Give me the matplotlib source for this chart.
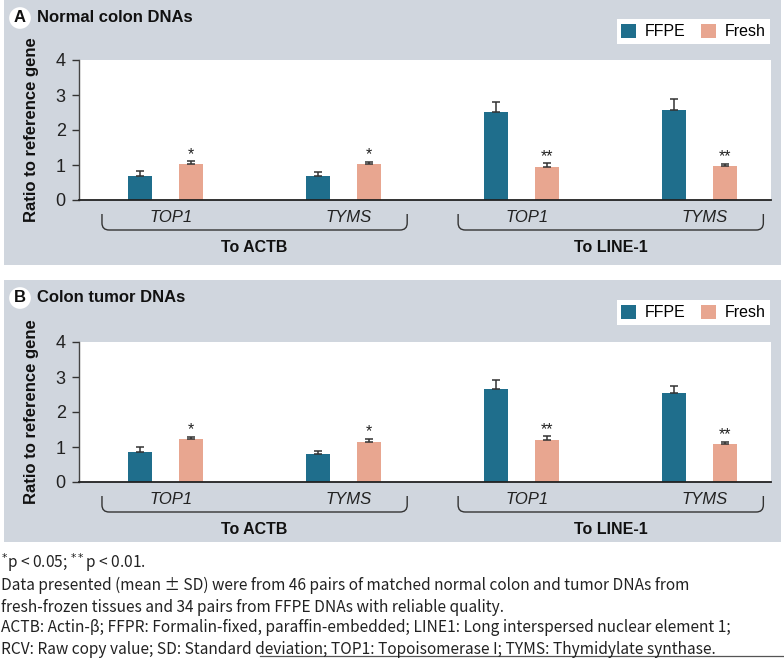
import matplotlib
matplotlib.use("Agg")
import matplotlib.pyplot as plt
from matplotlib.patches import Rectangle, PathPatch, Patch
from matplotlib.path import Path
from matplotlib.lines import Line2D
import matplotlib.transforms as mtransforms
import numpy as np

# ---------------- data ----------------
genes = ["TOP1", "TYMS", "TOP1", "TYMS"]
ref_groups = ["To ACTB", "To LINE-1"]
series = ["FFPE", "Fresh"]

normal_ffpe = [0.69, 0.69, 2.52, 2.56]
normal_ffpe_sd = [0.13, 0.10, 0.27, 0.34]
normal_fresh = [1.04, 1.02, 0.95, 0.98]
normal_fresh_sd = [0.07, 0.07, 0.10, 0.05]

tumor_ffpe = [0.87, 0.81, 2.65, 2.55]
tumor_ffpe_sd = [0.14, 0.09, 0.26, 0.18]
tumor_fresh = [1.22, 1.14, 1.19, 1.09]
tumor_fresh_sd = [0.08, 0.09, 0.12, 0.06]

significance = ["*", "*", "**", "**"]
yticks = [0, 1, 2, 3, 4]

panel_letters = ["A", "B"]
panel_titles = ["Normal colon DNAs", "Colon tumor DNAs"]

footnotes = [
    "$^{*}$p < 0.05; $^{**}$p < 0.01.",
    "Data presented (mean ± SD) were from 46 pairs of matched normal colon and tumor DNAs from",
    "fresh-frozen tissues and 34 pairs from FFPE DNAs with reliable quality.",
    "ACTB: Actin-β; FFPR: Formalin-fixed, paraffin-embedded; LINE1: Long interspersed nuclear element 1;",
    "RCV: Raw copy value; SD: Standard deviation; TOP1: Topoisomerase I; TYMS: Thymidylate synthase.",
]

# ---------------- style ----------------
W, H = 784, 659
C_FFPE = "#1f6e8c"
C_FRESH = "#e8a690"
C_BG = "#d0d6de"
FONT = ["Liberation Sans", "DejaVu Sans"]
plt.rcParams["font.family"] = FONT

fig = plt.figure(figsize=(W / 100, H / 100), dpi=100)


def fx(px):
    return px / W


def fy(py):
    return 1 - py / H


panels = [
    dict(top=0, bot=265, ax_top=60, ax_bot=200, leg_top=19,
         ffpe=normal_ffpe, ffpe_sd=normal_ffpe_sd, fresh=normal_fresh, fresh_sd=normal_fresh_sd),
    dict(top=280, bot=542, ax_top=342, ax_bot=482, leg_top=300,
         ffpe=tumor_ffpe, ffpe_sd=tumor_ffpe_sd, fresh=tumor_fresh, fresh_sd=tumor_fresh_sd),
]

ax_left, ax_right = 79, 771
x = np.arange(len(genes))
bw = 0.135
off = 0.143

for i, p in enumerate(panels):
    # grey panel background
    fig.patches.append(Rectangle((fx(4), fy(p["bot"])), fx(777), (p["bot"] - p["top"]) / H,
                                 transform=fig.transFigure, facecolor=C_BG, edgecolor="none", zorder=-5))
    ax = fig.add_axes([fx(ax_left), fy(p["ax_bot"]), fx(ax_right - ax_left), (p["ax_bot"] - p["ax_top"]) / H])
    ax.set_facecolor("white")
    fresh_top = np.array(p["fresh"]) + np.array(p["fresh_sd"])
    ax.bar(x - off, p["ffpe"], bw, color=C_FFPE, zorder=2)
    ax.bar(x + off, p["fresh"], bw, color=C_FRESH, zorder=2)
    ax.errorbar(x - off, p["ffpe"], yerr=[np.zeros(4), p["ffpe_sd"]], fmt="none",
                ecolor="#333333", elinewidth=1.1, capsize=3.2, capthick=1.1, zorder=3)
    ax.errorbar(x + off, p["fresh"], yerr=[np.zeros(4), p["fresh_sd"]], fmt="none",
                ecolor="#333333", elinewidth=1.1, capsize=3.2, capthick=1.1, zorder=3)
    for xi, t, s in zip(x, fresh_top, significance):
        ax.text(xi + off, t + 0.07, s, ha="center", va="baseline", fontsize=11.5, color="#222222")
    ax.set_xlim(-0.486, 3.40)
    ax.set_ylim(0, 4)
    ax.set_yticks(yticks)
    ax.set_yticklabels([str(v) for v in yticks], fontsize=13, color="#222222")
    ax.tick_params(axis="y", direction="out", length=5, width=1, color="#333333", pad=4.5)
    ax.set_xticks([])
    for sp in ["top", "right"]:
        ax.spines[sp].set_visible(False)
    ax.spines["left"].set_color("#444444")
    ax.spines["left"].set_linewidth(1)
    ax.spines["bottom"].set_color("#222222")
    ax.spines["bottom"].set_linewidth(1.3)

    axh = p["ax_bot"] - p["ax_top"]
    trans = mtransforms.blended_transform_factory(ax.transData, ax.transAxes)
    # gene labels
    for xi, g in zip(x, genes):
        ax.text(xi + 0.03, -17 / axh, g, transform=trans, ha="center", va="center",
                fontsize=12, style="italic", color="#222222", clip_on=False)
    # brackets and group labels
    for gi, gname in enumerate(ref_groups):
        c = 0.5 + 2 * gi
        l, r = c - 0.857, c + 0.857
        y0, y1 = -14 / axh, -30 / axh
        rx = 0.04
        ry = 7 / axh
        verts = [(l, y0), (l, y1 + ry), (l, y1), (l + rx, y1), (r - rx, y1), (r, y1), (r, y1 + ry), (r, y0)]
        codes = [Path.MOVETO, Path.LINETO, Path.CURVE3, Path.CURVE3, Path.LINETO, Path.CURVE3, Path.CURVE3, Path.LINETO]
        ax.add_patch(PathPatch(Path(verts, codes), transform=trans, facecolor="none",
                               edgecolor="#333333", lw=1.0, clip_on=False))
        ax.text(c, -48 / axh, gname, transform=trans, ha="center", va="center",
                fontsize=11.5, fontweight="bold", color="#111111", clip_on=False)

    # y label
    fig.text(fx(32), fy((p["ax_top"] + p["ax_bot"]) / 2), "Ratio to reference gene", rotation=90,
             ha="center", va="center", fontsize=12, fontweight="bold", color="#111111")

    # panel letter and title
    ty = p["top"] + 18
    fig.text(fx(20), fy(ty), panel_letters[i], ha="center", va="center", fontsize=12,
             fontweight="bold", color="#111111",
             bbox=dict(boxstyle="circle,pad=0.2", fc="white", ec="none"))
    fig.text(fx(37), fy(ty), panel_titles[i], ha="left", va="center", fontsize=12,
             fontweight="bold", color="#111111")

    # legend
    handles = [Patch(facecolor=C_FFPE, edgecolor="none"), Patch(facecolor=C_FRESH, edgecolor="none")]
    leg = fig.legend(handles, series, loc="upper right", bbox_to_anchor=(fx(770), fy(p["leg_top"])),
                     ncol=2, frameon=True, fancybox=False, framealpha=1, facecolor="white",
                     edgecolor="none", fontsize=11.5, handlelength=0.95, handleheight=0.95,
                     handletextpad=0.5, columnspacing=1.0, borderpad=0.3, borderaxespad=0)

# ---------------- footnotes ----------------
FOOT = ["Noto Sans CJK SC", "DejaVu Sans"]
ys = [563, 585, 607, 628, 650]
texts = []
for t, yy in zip(footnotes, ys):
    texts.append(fig.text(fx(1), fy(yy), t, ha="left", va="center", fontsize=11,
                          family=FOOT, color="#222222"))
# fit font size so the widest line spans the reference width
renderer = fig.canvas.get_renderer()
w = texts[3].get_window_extent(renderer).width
scale = 729 / w
for t in texts:
    t.set_fontsize(11 * scale)

fig.lines.append(Line2D([fx(260), fx(784)], [fy(656), fy(656)], transform=fig.transFigure,
                        color="#555555", lw=0.9))

fig.savefig("out.png", dpi=100, facecolor="white")
